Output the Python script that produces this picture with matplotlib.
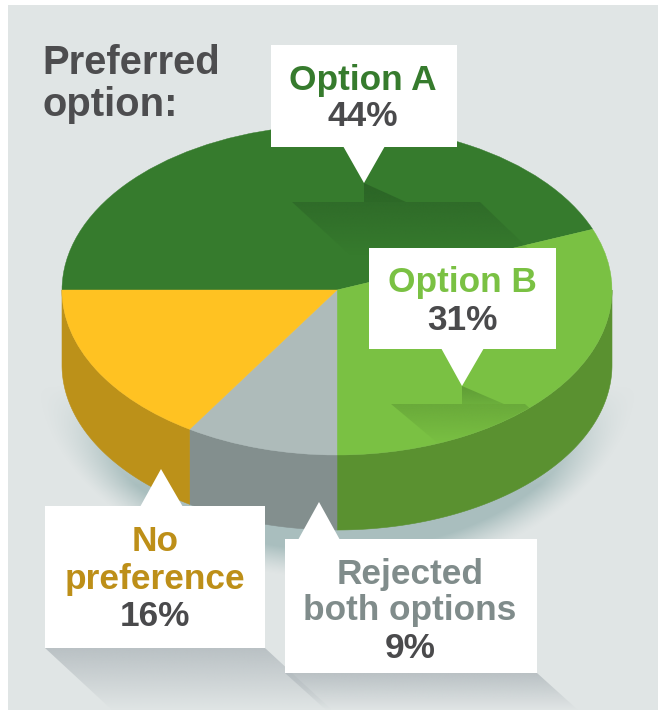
import numpy as np
import matplotlib
matplotlib.use("Agg")
import matplotlib.pyplot as plt
from matplotlib.patches import Wedge, Polygon, Rectangle
from matplotlib.transforms import Affine2D

plt.rcParams['font.family'] = ['Liberation Sans', 'DejaVu Sans']

# data
labels = ["Option A", "Option B", "Rejected\nboth options", "No\npreference"]
shares = [44, 31, 9, 16]
top_colors = ["#367B2D", "#7AC143", "#AEBBBA", "#FFC222"]
side_colors = ["#2A6024", "#5A9130", "#838F8E", "#BC9119"]
text_colors = ["#367B2D", "#7AC143", "#808C8B", "#BD8F18"]

BG = "#E0E5E5"
DARK = "#4A4A4C"

# pie geometry in pixels
cx, cy, rx, ry, depth = 337, 290, 275, 165, 75

fig = plt.figure(figsize=(6.58, 7.10), dpi=100)
ax = fig.add_axes([0, 0, 1, 1])
ax.set_xlim(0, 658)
ax.set_ylim(710, 0)
ax.axis("off")

ax.add_patch(Rectangle((8, 5), 650, 705, color=BG, lw=0, zorder=0))


def fade(verts, color, a0, a1, zorder, clip=False):
    # polygon filled with a vertical alpha gradient
    verts = np.array(verts, dtype=float)
    y0, y1 = verts[:, 1].min(), verts[:, 1].max()
    x0, x1 = verts[:, 0].min(), verts[:, 0].max()
    yy, xx = np.mgrid[y0:y1:256j, x0:x1:256j]
    img = np.zeros((256, 256, 4))
    img[..., :3] = matplotlib.colors.to_rgb(color)
    img[..., 3] = np.linspace(a0, a1, 256)[:, None]
    if clip:
        # keep only what lies on the pie top
        img[..., 3] *= ((xx - cx) / rx) ** 2 + ((yy - cy) / ry) ** 2 <= 1
    im = ax.imshow(img, extent=(x0, x1, y1, y0), aspect="auto", zorder=zorder,
                   interpolation="bilinear")
    patch = Polygon(verts, closed=True, transform=ax.transData, fc="none", ec="none")
    ax.add_patch(patch)
    im.set_clip_path(patch)
    ax.set_xlim(0, 658)
    ax.set_ylim(710, 0)


# soft shadow under the pie
yy, xx = np.mgrid[0:710, 0:658]
r = np.sqrt(((xx - cx) / (rx + 28)) ** 2 + ((yy - cy - depth) / (ry + 48)) ** 2)
shadow = np.clip((1 - r) / 0.13, 0, 1) ** 1.3
shadow *= np.clip((yy - 385) / 100, 0, 1)
shadow_img = np.zeros((710, 658, 4))
shadow_img[..., :3] = matplotlib.colors.to_rgb("#A3BABA")
shadow_img[..., 3] = shadow * 0.9
ax.imshow(shadow_img, extent=(0, 658, 710, 0), aspect="auto", zorder=1)
ax.set_xlim(0, 658)
ax.set_ylim(710, 0)

# pie: clockwise from the left
angles = 180 - np.cumsum([0] + shares) * 360 / sum(shares)
to_pixels = Affine2D().scale(rx, -ry).translate(cx, cy) + ax.transData

for i in range(len(shares)):
    a_start, a_end = angles[i], angles[i + 1]
    # side wall only where the slice faces the front
    lo, hi = max(a_end, -180), min(a_start, 0)
    if hi > lo:
        t = np.radians(np.linspace(lo, hi, 120))
        x = cx + rx * np.cos(t)
        y = cy - ry * np.sin(t)
        wall = np.r_[np.c_[x, y], np.c_[x, y + depth][::-1]]
        ax.add_patch(Polygon(wall, closed=True, fc=side_colors[i], ec=side_colors[i],
                             lw=0.4, zorder=2))
    ax.add_patch(Wedge((0, 0), 1, a_end, a_start, transform=to_pixels,
                       fc=top_colors[i], ec=top_colors[i], lw=0.3, zorder=3))

# long shadows of the two callouts that sit on the pie
fade([(292, 202), (480, 202), (535, 255), (350, 255)], "#2F6B29", 0.95, 0.0, 4, clip=True)
fade([(364, 183), (406, 202), (364, 202)], "#2B6426", 0.95, 0.75, 4)
fade([(391, 404), (525, 404), (570, 445), (440, 445)], "#69A93A", 0.95, 0.0, 4, clip=True)
fade([(462, 386), (504, 404), (462, 404)], "#5F9D36", 1.0, 0.5, 4)

# long shadows below the two bottom boxes
fade([(45, 648), (265, 648), (332, 710), (112, 710)], "#B0B8BC", 0.8, 0.0, 5)
fade([(285, 673), (537, 673), (578, 710), (326, 710)], "#B0B8BC", 0.8, 0.0, 6)


def callout(x0, x1, y0, y1, tip, base):
    # white box with a pointer
    ax.add_patch(Rectangle((x0, y0), x1 - x0, y1 - y0, fc="white", ec="none", zorder=7))
    ax.add_patch(Polygon([(base[0], base[2]), tip, (base[1], base[2])], closed=True,
                         fc="white", ec="none", zorder=7))


callout(271, 457, 45, 147, (364, 183), (343, 385, 146))
callout(369, 556, 248, 349, (462, 386), (441, 484, 348))
callout(45, 265, 506, 648, (161, 469), (140, 183, 507))
callout(285, 537, 539, 673, (319, 502), (298, 340, 540))

font = dict(fontsize=25.4, fontweight="bold", ha="center", va="baseline", zorder=8)
ax.text(363, 90, labels[0], color=text_colors[0], **font)
ax.text(363, 126, f"{shares[0]}%", color=DARK, **font)
ax.text(462, 292, labels[1], color=text_colors[1], **font)
ax.text(462, 330, f"{shares[1]}%", color=DARK, **font)
for line, y in zip(labels[3].split("\n"), (551, 589)):
    ax.text(155, y, line, color=text_colors[3], **font)
ax.text(155, 626, f"{shares[3]}%", color=DARK, **font)
for line, y in zip(labels[2].split("\n"), (584, 620)):
    ax.text(410, y, line, color=text_colors[2], **font)
ax.text(410, 658, f"{shares[2]}%", color=DARK, **font)

ax.text(42, 74, "Preferred", color="#4D4D4F", fontsize=28.8, fontweight="bold",
        ha="left", va="baseline", zorder=8)
ax.text(42, 116, "option:", color="#4D4D4F", fontsize=28.8, fontweight="bold",
        ha="left", va="baseline", zorder=8)

fig.savefig("out.png", dpi=100)
